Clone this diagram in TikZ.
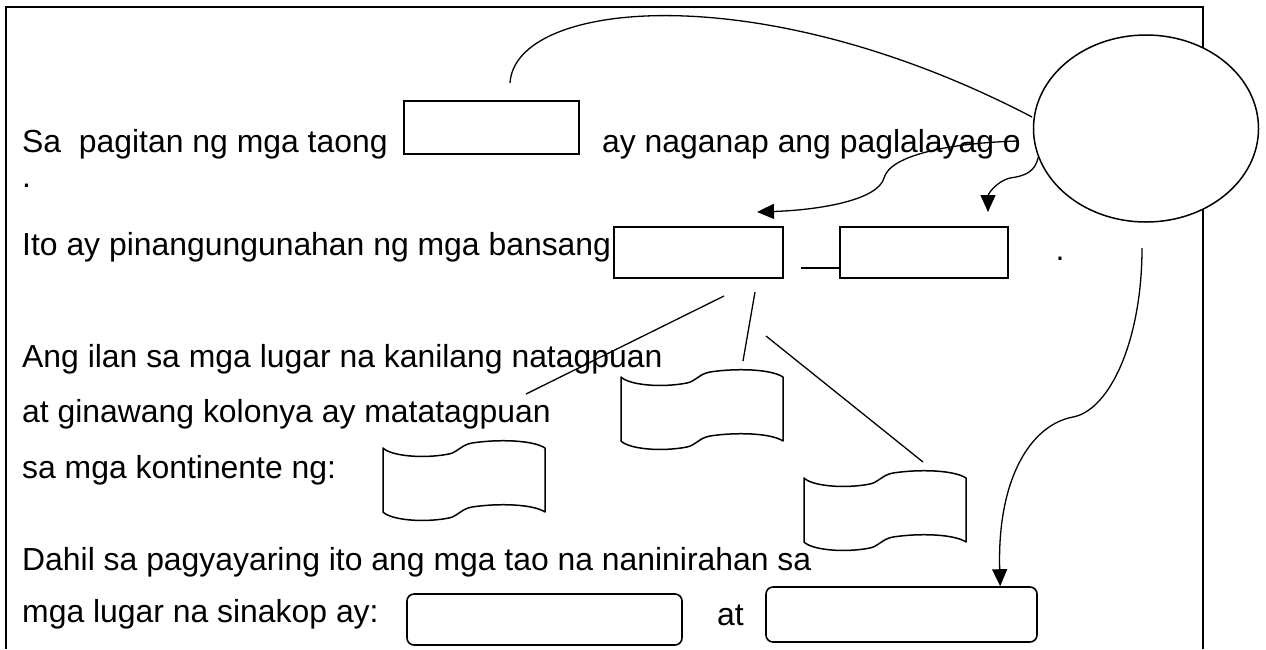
\documentclass[tikz,border=0pt]{standalone}
\usepackage{fontspec}
\setmainfont{Liberation Sans}
\usetikzlibrary{shapes.geometric,arrows.meta}
\tikzset{
  txt/.style={anchor=base west, inner sep=0pt, font=\fontsize{31.9}{36}\selectfont},
  blank/.style={draw, line width=1.6pt, inner sep=0pt},
  roundblank/.style={blank, rounded corners=7pt},
  flagbox/.style={inner sep=0pt, minimum width=162pt, minimum height=64pt},
  flagline/.style={line width=1.5pt, line join=round},
  link/.style={line width=1.3pt},
  arr/.style={link, -{Triangle[length=17pt, width=15pt]}}
}
\begin{document}
\begin{tikzpicture}[x=1pt, y=-1pt]
  \useasboundingbox (0,0) rectangle (1266,649);
  % frame, open at the bottom
  \draw[line width=2.2pt] (6,649) -- (6,7) -- (1203,7) -- (1203,649);

  % line 1
  \node[txt] (l1a) at (22,152) {Sa\ \ pagitan ng mga taong};
  \node[blank, minimum width=175pt, minimum height=53pt] (box1) at (491.5,127.5) {};
  \node[txt] (l1b) at (602,152) {ay naganap ang paglalayag o};
  \node[txt] (dot1) at (22,187) {.};
  % line 2
  \node[txt] (l2) at (22,255) {Ito ay pinangungunahan ng mga bansang};
  \node[blank, minimum width=169pt, minimum height=51pt] (box2) at (698.5,252.5) {};
  \node[blank, minimum width=168pt, minimum height=51pt] (box3) at (924,252.5) {};
  \node[txt] (dot2) at (1055.5,260) {.};
  \coordinate (bar) at (801,268);
  \draw[link] (bar) -- (bar -| box3.west);

  % continents: three wavy flags
  \node[txt] (l3) at (22,367) {Ang ilan sa mga lugar na kanilang natagpuan};
  \node[txt] (l4) at (22,422) {at ginawang kolonya ay matatagpuan};
  \node[txt] (l5) at (22,478) {sa mga kontinente ng:};
  \foreach \n/\x/\y in {w1/383/448, w2/621/377, w3/804/478} {
    \node[flagbox] (\n) at (\x+81,\y+32) {};
    \draw[flagline, shift={(\x,\y)}] (0,0)
      .. controls (8,8) and (40,11) .. (66,6)
      .. controls (75,4) and (78,-3) .. (89,-5)
      .. controls (115,-9) and (150,-8) .. (162,0) -- (162,64)
      .. controls (150,56) and (115,55) .. (89,59)
      .. controls (78,61) and (75,68) .. (66,70)
      .. controls (40,75) and (8,72) .. (0,64) -- cycle;}
  \coordinate (sA) at (724,296);  \coordinate (eA) at (526,394);
  \coordinate (sB) at (755,292);  \coordinate (eB) at (743,361);
  \coordinate (sC) at (766,336);  \coordinate (eC) at (923,462);
  \draw[link] (sA) -- (eA);
  \draw[link] (sB) -- (eB);
  \draw[link] (sC) -- (eC);

  % last two lines
  \node[txt] (l6) at (22,570) {Dahil sa pagyayaring ito ang mga tao na naninirahan sa};
  \node[txt] (l7) at (22,622) {mga lugar na sinakop ay:};
  \node[roundblank, minimum width=275pt, minimum height=51pt] (ans1) at (544.5,619.5) {};
  \node[txt] (at) at (717,625) {at};
  \node[roundblank, minimum width=271pt, minimum height=55pt] (ans2) at (901.5,614.5) {};

  % oval and its curves
  \coordinate (arcstart) at (510,83);
  \draw[link] (arcstart) .. controls (515,0) and (760,-25) .. (1032,117);
  \node[ellipse, draw, fill=white, line width=1.5pt, minimum width=225pt, minimum height=187pt] (oval) at (1146,128.5) {};
  \coordinate (startA) at (1018,141);
  \coordinate (tipA) at (757,212);
  \coordinate (tipB) at (988,212);
  \coordinate (startC) at (1142,248);
  \draw[arr] (startA) .. controls (950,143) and (890,155) .. (884,178)
             .. controls (878,200) and (820,210) .. (tipA);
  \draw[arr] (oval.195) .. controls (1035,172) and (1025,176) .. (1010,178)
             .. controls (995,182) and (988,195) .. (tipB);
  \draw[arr] (startC) .. controls (1142,340) and (1110,410) .. (1073,417)
             .. controls (1030,425) and (997,480) .. (ans2.16);
\end{tikzpicture}
\end{document}
